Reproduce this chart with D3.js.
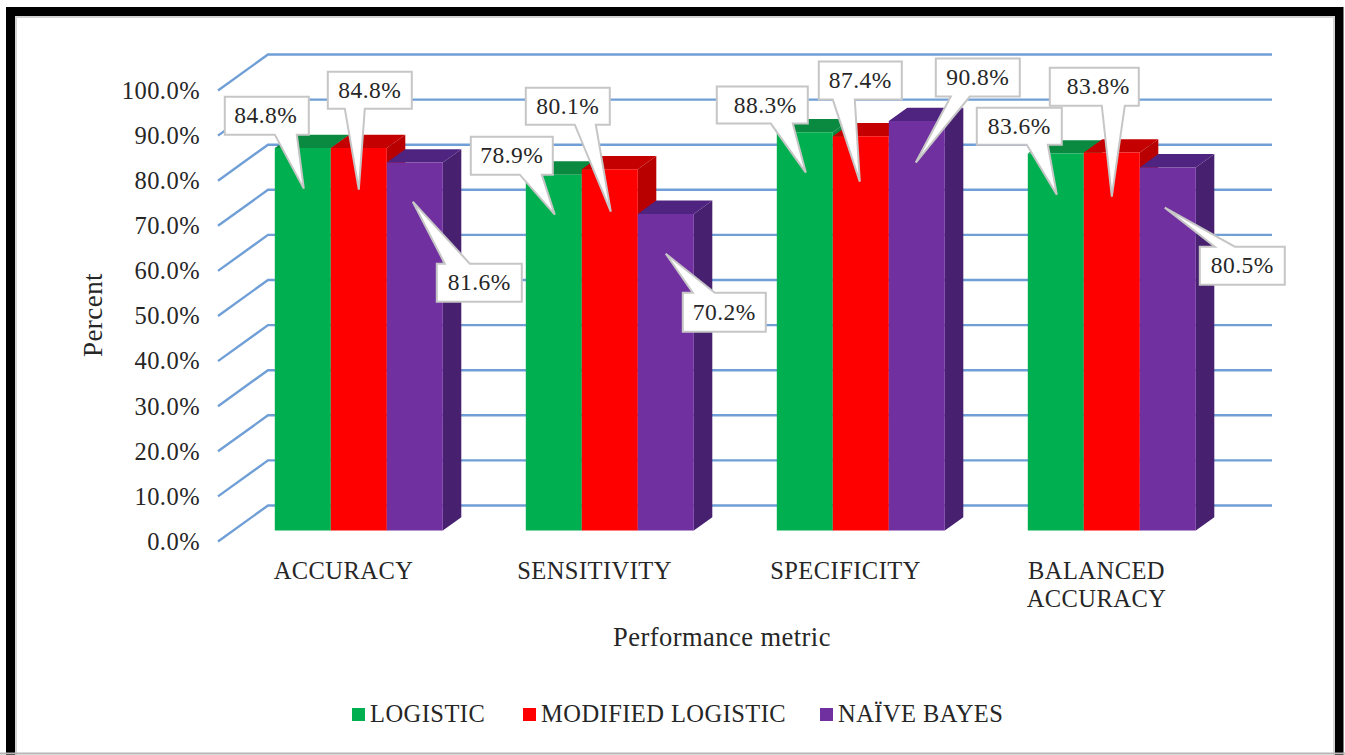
<!DOCTYPE html>
<html>
<head>
<meta charset="utf-8">
<title>Performance metrics by model</title>
<script src="https://cdnjs.cloudflare.com/ajax/libs/d3/7.9.0/d3.min.js"></script>
<style>
  html, body { margin: 0; padding: 0; background: #fff; overflow: hidden; }
  svg { display: block; }
  text { font-family: "Liberation Serif", serif; fill: #262626; letter-spacing: 0.45px; }
</style>
</head>
<body>
<svg id="chart" width="1345" height="755"></svg>
<script>
// Model scores per performance metric, in percent
const categories = ["ACCURACY", "SENSITIVITY", "SPECIFICITY", "BALANCED ACCURACY"];
const logistic = [84.8, 78.9, 88.3, 83.6];
const modifiedLogistic = [84.8, 80.1, 87.4, 83.8];
const naiveBayes = [81.6, 70.2, 90.8, 80.5];
const seriesNames = ["LOGISTIC", "MODIFIED LOGISTIC", "NAÏVE BAYES"];
const yTicks = [0, 10, 20, 30, 40, 50, 60, 70, 80, 90, 100];

// Face colours for each series: front, top, side
const palette = [
  { front: "#00b050", top: "#0a8a40", side: "#0a8a40" },
  { front: "#ff0000", top: "#c40000", side: "#b80000" },
  { front: "#7030a0", top: "#4f2480", side: "#472070" }
];

// Callout placement relative to the top-left front corner of each bar.
// Each row is [boxDx, boxDy, boxW, boxH, baseA, baseB, tipDx, tipDy, textShift].
const calloutOffsets = [
  [[-50, -51.4, 84, 38, 0, 22, 29, 40.6, -1], [-55, -38, 82, 38, -6, 16, 29, 40, 0], [-60, -45.7, 91, 37, -6, 16, 29, 40.3, 3], [-51, -45.8, 85, 37, -1, 20, 29, 41.2, 0]],
  [[-3, -76.4, 84, 37, 14, 34, 28, 41.6, 0], [-56, -81.6, 84, 37, -7, 14, 29, 42.4, 0], [-14, -74.7, 83, 38, 0, 22, 27, 45.3, 0], [-34, -84.9, 89, 38, 18, 41, 28, 44.1, 4]],
  [[50, 101.2, 85, 38, 58, 83, 26, 39.2, 0], [45, 78.9, 83, 39, 55, 77, 28, 39.9, 0], [47, -62.4, 84, 38, 62, 81, 27, 41.6, 0], [60, 79.2, 85, 38, 75, 95, 25, 40.2, 0]]
];

const svg = d3.select("#chart");
const values = [logistic, modifiedLogistic, naiveBayes];

// Front plane of the chart box, plus the oblique depth vector to the back wall
const xFront = d3.scaleBand().domain(categories).range([218, 1222]).padding(0);
const yFront = d3.scaleLinear().domain([0, 100]).range([541.5, 90.5]);
const depth = { dx: 50, dy: -36 };

// Bars stand part-way into the box; depth fractions of their front and back faces
const barFront = 0.306;
const barBack = 0.676;
const barWidth = 56;

// Outer picture frame, open at the bottom edge
svg.append("path")
  .attr("d", "M10.5,755V11.5H1339V755")
  .attr("fill", "none").attr("stroke", "#000").attr("stroke-width", 9);
svg.append("path")
  .attr("d", "M16,755V17H1334V755")
  .attr("fill", "none").attr("stroke", "#d4d4d4").attr("stroke-width", 2);
svg.append("line")
  .attr("x1", 0).attr("x2", 1345).attr("y1", 753.5).attr("y2", 753.5)
  .attr("stroke", "#b5b5b5").attr("stroke-width", 2);

// Gridlines: side wall diagonal, then along the back wall
const gridLine = d3.line();
svg.append("g").selectAll("path").data(yTicks).join("path")
  .attr("d", t => {
    const x0 = xFront.range()[0], x1 = xFront.range()[1], y = yFront(t);
    return gridLine([[x0, y], [x0 + depth.dx, y + depth.dy], [x1 + depth.dx, y + depth.dy]]);
  })
  .attr("fill", "none").attr("stroke", "#6f9fd6").attr("stroke-width", 2.4);

// Value axis, drawn without its domain line or tick marks
const yAxis = svg.append("g")
  .attr("transform", "translate(200,0)")
  .call(d3.axisLeft(yFront).tickValues(yTicks).tickSize(0).tickPadding(0)
    .tickFormat(d => d3.format(".1f")(d) + "%"));
yAxis.select(".domain").remove();
yAxis.selectAll("text").attr("font-size", 24.5).attr("font-family", null).attr("fill", null);

// Category axis; the long label wraps onto two lines
const xAxis = svg.append("g")
  .attr("transform", "translate(0,541)")
  .call(d3.axisBottom(xFront).tickSize(0).tickFormat(""));
xAxis.select(".domain").remove();
xAxis.selectAll(".tick text").each(function (d) {
  const t = d3.select(this).text(null)
    .attr("font-size", 24.5).attr("font-family", null).attr("fill", null)
    .attr("text-anchor", "middle").attr("y", 0).attr("dy", null);
  const words = d.split(" ");
  words.forEach((w, i) => {
    t.append("tspan").attr("x", 0).attr("y", 38 + i * 28).text(w);
  });
});

// Bars are painted left to right so each one overlaps its neighbour's side face
const project = (x, v, frac) => [x + depth.dx * frac, yFront(v) + depth.dy * frac];
const poly = pts => d3.line()(pts) + "Z";

function barAnchor(c, s) {
  const left = xFront(categories[c]) + xFront.step() / 2 - (barWidth * 3) / 2 + s * barWidth;
  return project(left, values[s][c], barFront);
}

categories.forEach((cat, c) => {
  const g = svg.append("g").attr("class", "cluster");
  seriesNames.forEach((name, s) => {
    const v = values[s][c];
    const x0 = xFront(cat) + xFront.step() / 2 - (barWidth * 3) / 2 + s * barWidth;
    const x1 = x0 + barWidth;
    const col = palette[s];
    g.append("path").attr("fill", col.side).attr("d", poly([
      project(x1, 0, barFront), project(x1, 0, barBack), project(x1, v, barBack), project(x1, v, barFront)
    ]));
    g.append("path").attr("fill", col.top).attr("d", poly([
      project(x0, v, barFront), project(x1, v, barFront), project(x1, v, barBack), project(x0, v, barBack)
    ]));
    g.append("path").attr("fill", col.front).attr("d", poly([
      project(x0, 0, barFront), project(x1, 0, barFront), project(x1, v, barFront), project(x0, v, barFront)
    ]));
  });
});

// Value callouts: a box with a wedge pointing into its bar
const callouts = svg.append("g").attr("class", "callouts");
seriesNames.forEach((name, s) => {
  categories.forEach((cat, c) => {
    const [ax, ay] = barAnchor(c, s);
    const [bx, by, bw, bh, ba, bb, tx, ty, shift] = calloutOffsets[s][c];
    const l = ax + bx, t = ay + by, r = l + bw, b = t + bh;
    const tip = [ax + tx, ay + ty];
    const pts = by < 0
      ? [[l, t], [r, t], [r, b], [ax + bb, b], tip, [ax + ba, b], [l, b]]
      : [[l, t], [ax + ba, t], tip, [ax + bb, t], [r, t], [r, b], [l, b]];
    callouts.append("path").attr("d", poly(pts))
      .attr("fill", "#fff").attr("stroke", "#c6c6c6").attr("stroke-width", 2).attr("stroke-linejoin", "miter");
    callouts.append("text")
      .attr("x", (l + r) / 2 + shift).attr("y", (t + b) / 2).attr("dy", "0.33em")
      .attr("text-anchor", "middle").attr("font-size", 23.5)
      .text(d3.format(".1f")(values[s][c]) + "%");
  });
});

// Axis titles
svg.append("text").attr("x", 722).attr("y", 646).attr("text-anchor", "middle").attr("font-size", 26.5)
  .text("Performance metric");
svg.append("text").attr("transform", "translate(102,315) rotate(-90)").attr("text-anchor", "middle").attr("font-size", 27)
  .text("Percent");

// Legend
const legendX = [352, 523, 820];
const legend = svg.append("g");
seriesNames.forEach((name, s) => {
  legend.append("rect").attr("x", legendX[s]).attr("y", 708).attr("width", 13).attr("height", 13)
    .attr("fill", palette[s].front);
  legend.append("text").attr("x", legendX[s] + 18).attr("y", 722).attr("font-size", 24.5).text(name);
});
</script>
</body>
</html>
